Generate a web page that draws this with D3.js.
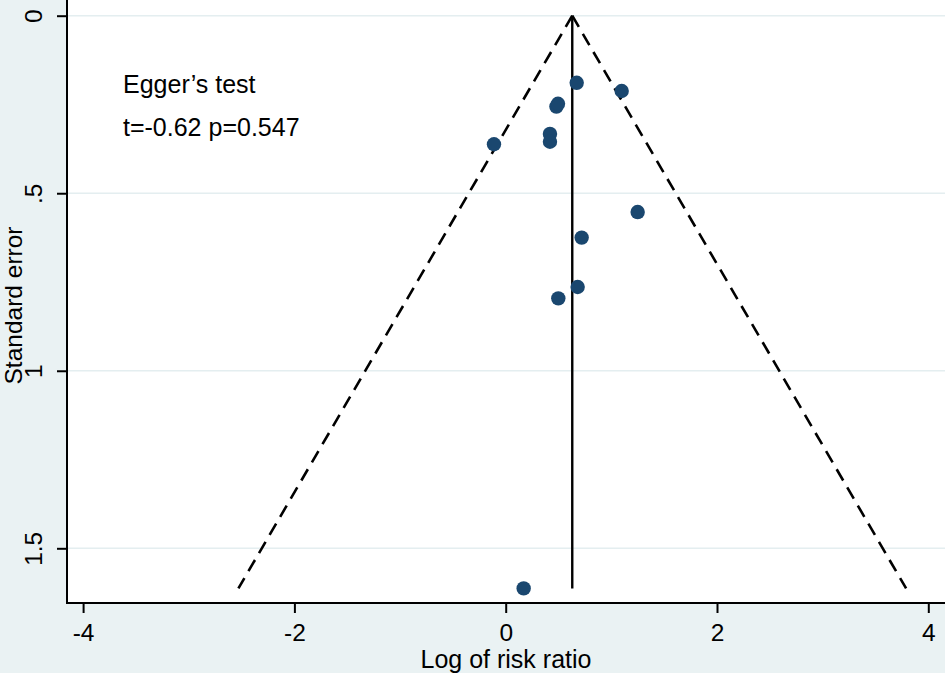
<!DOCTYPE html>
<html>
<head>
<meta charset="utf-8">
<script src="https://cdn.jsdelivr.net/npm/d3@7"></script>
<style>
  html, body { margin: 0; padding: 0; background: #eaf2f3; }
  svg { display: block; }
  text { font-family: "Liberation Sans", Arial, sans-serif; fill: #000; }
</style>
</head>
<body>
<svg id="chart" width="945" height="673"></svg>
<script>
// ---- data ----
const logRR = [0.672, 1.098, 0.480, 0.495, 0.419, 0.419, -0.111, 1.249, 0.719, 0.681, 0.498, 0.170];
const stdErr = [0.189, 0.212, 0.256, 0.248, 0.333, 0.355, 0.362, 0.553, 0.625, 0.764, 0.796, 1.613];
const pooled = 0.63;                       // vertical line (pooled estimate)
const funnelX = [-2.53, 0.63, 3.79];       // pseudo 95% limits (bottom-left, apex, bottom-right)
const funnelSE = [1.613, 0, 1.613];
const xTicks = [-4, -2, 0, 2, 4];
const yTicks = [0, 0.5, 1, 1.5];
const yTickLabels = ["0", ".5", "1", "1.5"];
const annotation = ["Egger\u2019s test", "t=-0.62 p=0.547"];

// ---- layout ----
const W = 945, H = 673;
const plot = { left: 67, right: 945, top: 0, bottom: 603 };
const FONT = '"Liberation Sans", Arial, sans-serif';

const svg = d3.select("#chart");
svg.append("rect").attr("width", W).attr("height", H).attr("fill", "#eaf2f3");
svg.append("rect")
  .attr("x", plot.left).attr("y", plot.top)
  .attr("width", plot.right - plot.left).attr("height", plot.bottom - plot.top)
  .attr("fill", "#ffffff");

const x = d3.scaleLinear().domain([-4, 4]).range([83.1, 928.3]);
const y = d3.scaleLinear().domain([0, 1.5]).range([15.7, 548.3]);

// gridlines
svg.append("g").selectAll("line").data(yTicks).join("line")
  .attr("x1", plot.left).attr("x2", plot.right)
  .attr("y1", d => y(d)).attr("y2", d => y(d))
  .attr("stroke", "#e4eef0").attr("stroke-width", 1.5);

// funnel dashed lines (drawn from apex outward)
const apex = [funnelX[1], funnelSE[1]];
[[apex, [funnelX[0], funnelSE[0]]], [apex, [funnelX[2], funnelSE[2]]]].forEach(seg => {
  svg.append("path")
    .datum(seg)
    .attr("d", d3.line().x(d => x(d[0])).y(d => y(d[1])))
    .attr("fill", "none").attr("stroke", "#000").attr("stroke-width", 2.6)
    .attr("stroke-dasharray", "13,8");
});

// vertical pooled line
svg.append("line")
  .attr("x1", x(pooled)).attr("x2", x(pooled))
  .attr("y1", y(0)).attr("y2", y(d3.max(funnelSE)))
  .attr("stroke", "#000").attr("stroke-width", 2.4);

// points
svg.append("g").selectAll("circle").data(logRR.map((v, i) => [v, stdErr[i]])).join("circle")
  .attr("cx", d => x(d[0])).attr("cy", d => y(d[1])).attr("r", 7.2)
  .attr("fill", "#1a476f");

// axes lines
svg.append("line").attr("x1", plot.left).attr("x2", plot.left)
  .attr("y1", plot.top).attr("y2", plot.bottom + 1)
  .attr("stroke", "#000").attr("stroke-width", 2);
svg.append("line").attr("x1", plot.left - 1).attr("x2", plot.right)
  .attr("y1", plot.bottom).attr("y2", plot.bottom)
  .attr("stroke", "#000").attr("stroke-width", 2);

// x axis ticks
const xg = svg.append("g").attr("transform", `translate(0,${plot.bottom})`);
xg.call(d3.axisBottom(x).tickValues(xTicks).tickSize(10).tickFormat(d => d));
xg.select(".domain").remove();
xg.selectAll(".tick line").attr("stroke", "#000").attr("stroke-width", 2);
xg.selectAll(".tick text")
  .attr("dy", null).attr("y", 38)
  .style("font-family", FONT)
  .style("font-size", "24.5px").attr("fill", "#000");

// y axis ticks
const yg = svg.append("g").attr("transform", `translate(${plot.left},0)`);
yg.call(d3.axisLeft(y).tickValues(yTicks).tickSize(10).tickFormat((d, i) => yTickLabels[i]));
yg.select(".domain").remove();
yg.selectAll(".tick line").attr("stroke", "#000").attr("stroke-width", 2);
yg.selectAll(".tick text")
  .attr("x", null).attr("dy", null)
  .attr("text-anchor", "middle")
  .attr("transform", "translate(-25,0) rotate(-90)")
  .style("font-family", FONT)
  .style("font-size", "24.5px").attr("fill", "#000");

// axis titles
svg.append("text")
  .attr("x", (plot.left + plot.right) / 2).attr("y", 667.5)
  .attr("text-anchor", "middle").style("font-size", "25px")
  .text("Log of risk ratio");
svg.append("text")
  .attr("transform", `translate(22,${(plot.top + plot.bottom) / 2 + 4}) rotate(-90)`)
  .attr("text-anchor", "middle").style("font-size", "24.5px")
  .text("Standard error");

// annotation
svg.append("g").selectAll("text").data(annotation).join("text")
  .attr("x", 123).attr("y", (d, i) => 93 + i * 43)
  .style("font-size", "25px")
  .text(d => d);
</script>
</body>
</html>
